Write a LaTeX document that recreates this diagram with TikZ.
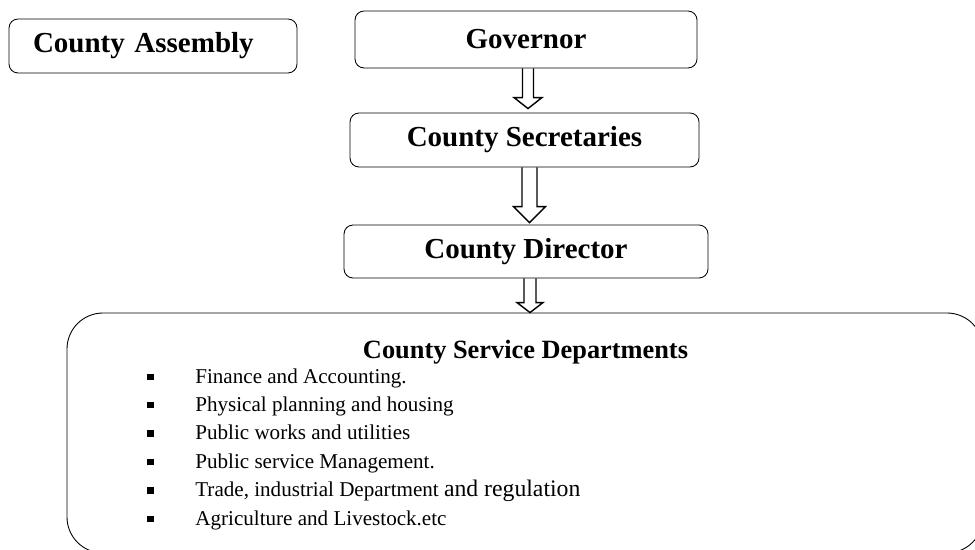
\documentclass[tikz,border=0pt]{standalone}
\usepackage{fontspec}
\setmainfont{Liberation Serif}
\usetikzlibrary{calc}

% hollow block arrow: top, tip, shaft half width, head half width, head length
\newcommand{\hollowarrow}[5]{%
  \draw[hollow] ($(#1)+(-#3,0)$) -- ($(#2)+(-#3,#5)$) -- ($(#2)+(-#4,#5)$) -- (#2)
    -- ($(#2)+(#4,#5)$) -- ($(#2)+(#3,#5)$) -- ($(#1)+(#3,0)$);}

\begin{document}
\begin{tikzpicture}[
    box/.style={rectangle, draw, rounded corners=0.18cm, line width=0.5pt, font=\bfseries\fontsize{16.5}{20}\selectfont},
    bigbox/.style={rectangle, draw, rounded corners=0.72cm, line width=0.5pt, minimum width=18.32cm, minimum height=4.8cm},
    hollow/.style={line width=0.8pt, line join=miter}
]
\useasboundingbox (0,0) rectangle (19.5,-11);
\clip (0,0) rectangle (19.5,-11);

% Chain of offices
\node[box, minimum width=5.76cm, minimum height=1.08cm, inner xsep=0.48cm, text width=4.8cm, align=left] (assembly) at (3.06,-0.92) {County Assembly};
\node[box, minimum width=6.84cm, minimum height=1.14cm] (governor) at (10.52,-0.79) {Governor};
\node[box, minimum width=6.98cm, minimum height=1.08cm] (secretaries) at (10.49,-2.8) {County Secretaries};
\node[box, minimum width=7.28cm, minimum height=1.06cm] (director) at (10.52,-5.03) {County Director};

% Departments
\node[bigbox] (departments) at (10.5,-8.66) {};
\node[font=\bfseries\fontsize{15}{18}\selectfont] (depttitle) at (10.51,-7.04) {County Service Departments};
\node[anchor=west, inner sep=0pt, font=\fontsize{12}{16.2}\selectfont] (deptlist) at (2.94,-8.97) {
\begin{tabular}{@{}l@{\hspace{0.83cm}}l@{}}
\rule[0.06cm]{0.13cm}{0.13cm} & Finance and Accounting. \\
\rule[0.06cm]{0.13cm}{0.13cm} & Physical planning and housing \\
\rule[0.06cm]{0.13cm}{0.13cm} & Public works and utilities \\
\rule[0.06cm]{0.13cm}{0.13cm} & Public service Management. \\
\rule[0.06cm]{0.13cm}{0.13cm} & Trade, industrial Department {\fontsize{13.5}{16.2}\selectfont and regulation} \\
\rule[0.06cm]{0.13cm}{0.13cm} & Agriculture and Livestock.etc \\
\end{tabular}
};

% Arrows
\coordinate (tipA) at ($(secretaries.north)+(0.07,0.08)$);
\coordinate (topA) at (governor.south -| tipA);
\hollowarrow{topA}{tipA}{0.11}{0.28}{0.22}
\coordinate (tipB) at ($(director.north)+(0.07,0.04)$);
\coordinate (topB) at (secretaries.south -| tipB);
\hollowarrow{topB}{tipB}{0.15}{0.32}{0.32}
\coordinate (tipC) at ($(departments.north)+(0.1,0)$);
\coordinate (topC) at (director.south -| tipC);
\hollowarrow{topC}{tipC}{0.12}{0.26}{0.2}

\end{tikzpicture}
\end{document}
